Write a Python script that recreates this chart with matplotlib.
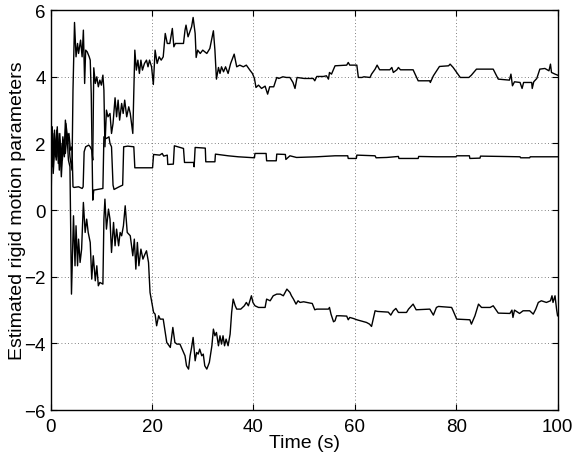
import numpy as np
import matplotlib
matplotlib.use("Agg")
import matplotlib.pyplot as plt

# (time, value), one list per trace
upper = [
    (0, 1.9), (0.2, 2.5), (0.4, 1.3), (0.7, 2.3), (1.0, 1.6), (1.2, 2.4), (1.5, 1.4),
    (1.8, 2.1), (2.1, 1.0), (2.4, 1.9), (2.7, 1.6), (3.0, 2.6), (3.3, 2.2), (3.6, 2.3),
    (3.9, 1.8), (4.2, 1.9), (4.4, 0.7), (4.6, 0.68), (5.5, 0.7), (6.2, 0.65), (6.4, 0.7),
    (6.6, 1.75), (6.9, 1.9), (7.5, 1.95), (7.8, 1.9), (8.1, 1.8), (8.3, 1.5), (8.5, 4.27),
    (8.8, 3.8), (9.1, 4.0), (9.4, 3.7), (9.7, 3.9), (10.0, 3.75), (10.3, 4.05), (10.5, 3.6),
    (10.7, 1.9), (11.0, 3.0), (11.3, 2.8), (11.7, 2.9), (12.0, 2.3), (12.3, 2.6), (12.7, 3.37),
    (13.0, 2.8), (13.3, 3.3), (13.6, 2.7), (14.0, 3.2), (14.3, 2.9), (14.6, 3.3), (15.0, 2.8),
    (15.4, 3.1), (15.7, 2.9), (16.2, 2.3), (16.6, 4.8), (16.9, 4.2), (17.2, 4.5), (17.5, 4.1),
    (17.8, 4.5), (18.1, 4.2), (18.5, 4.4), (18.9, 4.5), (19.2, 4.3), (19.5, 4.5), (19.9, 4.3),
    (20.25, 3.77), (20.6, 4.8), (21.0, 4.4), (21.4, 4.6), (21.8, 4.5), (22.2, 4.6), (22.6, 5.3),
    (23.0, 5.0), (23.5, 5.0), (24.0, 5.45), (24.3, 4.9), (24.6, 5.0), (25.5, 5.0), (26.2, 5.0),
    (26.5, 5.4), (26.7, 5.55), (27.1, 5.2), (27.8, 5.5), (28.1, 5.78), (28.5, 5.3), (28.7, 4.58),
    (29.0, 4.8), (29.5, 4.7), (30.0, 4.8), (30.8, 4.7), (31.4, 4.85), (32.1, 5.38), (32.4, 4.8),
    (32.7, 3.93), (33.1, 4.28), (33.4, 4.1), (33.7, 4.3), (34.1, 4.15), (34.5, 4.3), (35.0, 4.1),
    (35.5, 4.4), (36.2, 4.68), (36.7, 4.3), (37.3, 4.35), (38.0, 4.3), (38.6, 4.35), (39.3, 4.2),
    (39.8, 4.1), (40.2, 3.95), (40.5, 3.68), (41.0, 3.75), (41.6, 3.65), (42.3, 3.72), (42.8, 3.48),
    (43.2, 3.7), (44.0, 3.7), (44.6, 3.98), (45.0, 3.95), (45.8, 4.0), (46.5, 3.98), (47.2, 3.98),
    (47.8, 3.83), (48.2, 3.65), (48.6, 3.98), (50.0, 3.95), (51.8, 3.95), (52.1, 3.88), (52.5, 4.01),
    (53.8, 4.01), (54.4, 4.03), (54.8, 3.93), (55.0, 4.13), (55.4, 4.08), (56.1, 4.33), (58.4, 4.35),
    (58.7, 4.43), (59.0, 4.35), (60.4, 4.35), (60.7, 3.98), (61.4, 3.98), (61.8, 4.0), (63.0, 3.98),
    (63.3, 4.08), (64.0, 4.23), (64.4, 4.35), (64.9, 4.21), (66.9, 4.21), (67.3, 4.28), (67.6, 4.13),
    (68.3, 4.21), (68.6, 4.28), (69.0, 4.21), (71.5, 4.21), (72.5, 3.88), (74.8, 3.88), (74.9, 3.83),
    (75.5, 4.03), (76.7, 4.31), (78.5, 4.33), (78.8, 4.38), (79.4, 4.28), (80.8, 3.98), (82.5, 3.98),
    (83.0, 4.05), (84.0, 4.23), (87.3, 4.23), (88.3, 3.93), (90.5, 3.9), (90.8, 4.08), (91.1, 3.73),
    (91.5, 3.85), (92.6, 3.83), (93.0, 3.65), (93.3, 3.83), (94.9, 3.83), (95.0, 3.65), (95.3, 3.85),
    (95.9, 3.95), (96.5, 4.23), (97.5, 4.25), (98.3, 4.18), (98.6, 4.38), (98.8, 4.13), (99.5, 4.08),
    (100, 4.05),
]

middle = [
    (0, -0.57), (0.15, 1.0), (0.3, 2.5), (0.5, 1.4), (0.75, 2.4), (1.0, 1.7), (1.3, 2.5),
    (1.5, 1.6), (1.8, 2.3), (2.1, 1.3), (2.4, 2.2), (2.7, 1.8), (2.9, 2.7), (3.2, 2.1),
    (3.5, 2.2), (3.8, 1.6), (4.2, 1.2), (4.4, 3.6), (4.7, 5.63), (5.0, 4.6), (5.3, 5.0),
    (5.5, 4.7), (5.9, 5.1), (6.2, 4.6), (6.45, 5.4), (6.7, 3.8), (6.9, 4.8), (7.2, 4.75),
    (7.6, 4.6), (7.8, 4.5), (8.0, 3.5), (8.3, 0.3), (8.5, 0.6), (10.3, 0.65), (10.5, 2.2),
    (11.0, 2.15), (11.5, 2.2), (11.7, 2.0), (12.0, 1.9), (12.3, 0.75), (12.5, 0.62), (13.5, 0.7),
    (14.2, 0.75), (14.4, 1.9), (15.2, 1.92), (16.4, 1.9), (16.6, 1.27), (20.1, 1.27), (20.3, 1.67),
    (21.5, 1.65), (22.0, 1.7), (22.3, 1.62), (23.0, 1.65), (23.1, 1.37), (24.2, 1.38), (24.4, 1.93),
    (26.2, 1.85), (26.4, 1.43), (28.2, 1.43), (28.3, 1.3), (28.5, 1.88), (30.5, 1.86), (30.6, 1.45),
    (32.4, 1.45), (32.5, 1.68), (35.0, 1.63), (37.0, 1.6), (40.2, 1.57), (40.3, 1.7), (42.5, 1.7),
    (42.6, 1.48), (44.5, 1.48), (44.6, 1.68), (46.3, 1.67), (46.4, 1.52), (47.2, 1.63), (48.5, 1.58),
    (52.5, 1.6), (56.1, 1.63), (58.6, 1.63), (58.7, 1.55), (60.3, 1.55), (60.4, 1.65), (64.0, 1.63),
    (64.2, 1.57), (66.3, 1.58), (68.6, 1.61), (68.7, 1.55), (72.5, 1.55), (72.6, 1.61), (76.1, 1.6),
    (80.0, 1.6), (80.1, 1.63), (82.6, 1.63), (82.7, 1.55), (84.7, 1.56), (84.8, 1.62), (89.0, 1.61),
    (92.6, 1.6), (92.7, 1.57), (94.5, 1.57), (94.6, 1.6), (100, 1.6),
]

lower = [
    (0, 1.2), (0.3, 2.0), (0.5, 1.1), (0.8, 1.9), (1.1, 1.5), (1.4, 2.3), (1.7, 1.2), (2.0, 2.0),
    (2.3, 1.5), (2.6, 2.1), (2.9, 1.7), (3.2, 2.3), (3.5, 1.5), (3.8, 1.3), (4.1, -2.52), (4.5, -0.17),
    (4.8, -1.67), (5.0, -0.47), (5.3, -1.67), (5.5, -0.87), (5.8, -1.57), (6.1, -1.17), (6.45, 0.23),
    (6.8, -0.67), (7.1, -0.27), (7.4, -0.67), (7.8, -0.97), (8.1, -2.07), (8.4, -1.37), (8.8, -2.12),
    (9.1, -1.67), (9.4, -2.27), (9.7, -2.17), (10.3, -2.22), (10.5, -0.27), (10.7, 0.33), (11.0, -0.57),
    (11.4, 0.03), (11.7, -0.27), (12.0, -1.27), (12.4, -0.37), (12.7, -1.07), (13.0, -0.57), (13.4, -1.07),
    (13.7, -0.67), (14.0, -0.77), (14.35, -0.47), (14.7, 0.13), (15.1, -0.67), (15.7, -0.77), (16.2, -1.37),
    (16.5, -0.87), (16.8, -1.77), (17.1, -0.97), (17.4, -1.67), (17.8, -1.17), (18.2, -1.47), (18.6, -1.32),
    (18.9, -1.22), (19.3, -1.57), (19.6, -2.47), (20.3, -3.07), (20.6, -3.12), (20.9, -3.47), (21.3, -3.17),
    (21.6, -3.27), (22.2, -3.27), (22.6, -3.67), (22.9, -3.97), (23.6, -4.12), (24.1, -3.52), (24.5, -3.97),
    (24.9, -4.02), (25.5, -4.02), (26.5, -4.37), (26.8, -4.67), (27.2, -4.77), (27.5, -4.37), (27.8, -4.12),
    (28.1, -3.82), (28.5, -4.52), (28.8, -4.27), (29.1, -4.32), (29.4, -4.17), (29.8, -4.37), (30.1, -4.32),
    (30.4, -4.67), (30.8, -4.77), (31.3, -4.57), (31.8, -4.07), (32.1, -3.57), (32.4, -3.77), (32.7, -3.67),
    (33.1, -4.07), (33.4, -3.77), (33.7, -4.02), (34.0, -3.77), (34.3, -4.07), (34.6, -3.87), (35.0, -4.07),
    (35.4, -3.72), (35.7, -3.07), (36.0, -2.67), (36.4, -2.87), (36.7, -2.97), (37.5, -2.97), (38.2, -2.87),
    (38.6, -2.77), (39.0, -2.87), (39.6, -2.57), (39.9, -2.77), (40.3, -2.87), (41.0, -2.92), (42.3, -2.92),
    (42.6, -2.67), (43.3, -2.72), (43.9, -2.57), (44.6, -2.52), (45.3, -2.52), (45.9, -2.57), (46.6, -2.37),
    (46.9, -2.42), (47.2, -2.47), (47.5, -2.57), (47.9, -2.67), (48.4, -2.82), (48.8, -2.72), (49.2, -2.77),
    (49.9, -2.75), (50.5, -2.77), (51.2, -2.79), (51.6, -2.8), (52.1, -2.99), (52.5, -2.97), (54.8, -2.97),
    (55.0, -2.92), (55.3, -3.12), (55.8, -3.35), (56.1, -3.32), (56.4, -3.17), (57.1, -3.17), (58.4, -3.18),
    (58.7, -3.29), (59.0, -3.22), (59.7, -3.25), (60.4, -3.29), (62.3, -3.37), (62.9, -3.42), (63.3, -3.49),
    (64.0, -3.02), (64.5, -3.04), (66.6, -3.06), (67.1, -3.15), (67.6, -3.02), (68.1, -2.95), (68.6, -3.07),
    (70.2, -3.07), (70.6, -2.97), (71.5, -2.82), (72.1, -2.99), (74.8, -2.97), (75.2, -3.07), (75.5, -3.15),
    (76.1, -2.92), (76.5, -2.89), (79.1, -2.92), (79.4, -3.02), (80.1, -3.27), (82.7, -3.29), (83.0, -3.42),
    (83.7, -3.17), (84.4, -2.82), (85.0, -2.92), (86.7, -2.92), (87.3, -2.87), (88.3, -3.09), (90.6, -3.1),
    (91.0, -3.0), (91.2, -3.22), (91.5, -3.0), (92.0, -3.05), (92.5, -3.1), (93.2, -3.02), (94.5, -3.02),
    (95.2, -3.12), (95.7, -2.97), (96.2, -2.77), (96.8, -2.72), (97.8, -2.77), (98.6, -2.72), (98.9, -2.57),
    (99.1, -2.77), (99.5, -2.57), (99.8, -2.97), (100, -3.17),
]

xticks = [0, 20, 40, 60, 80, 100]
yticks = [-6, -4, -2, 0, 2, 4, 6]

plt.rcParams['font.family'] = ['Liberation Sans', 'DejaVu Sans']

fig = plt.figure(figsize=(5.76, 4.64), dpi=100)
ax = fig.add_axes([0.088, 0.114, 0.880, 0.862])

for pts in (upper, middle, lower):
    t, v = np.array(pts).T
    ax.plot(t, v, color='k', lw=1.0)

ax.set_xlim(0, 100)
ax.set_ylim(-6, 6)
ax.set_xticks(xticks)
ax.set_yticks(yticks)
ax.grid(True, color='0.35', linestyle=(0, (1, 3)), linewidth=0.6)
ax.tick_params(direction='in', top=True, right=True, length=4, labelsize=13.5)
ax.tick_params(axis='x', pad=6)
ax.tick_params(axis='y', pad=3.5)
for s in ax.spines.values():
    s.set_linewidth(1.0)
ax.set_xlabel('Time (s)', fontsize=14, labelpad=-1)
ax.set_ylabel('Estimated rigid motion parameters', fontsize=14, labelpad=-1)

fig.savefig('out.png', dpi=100)
